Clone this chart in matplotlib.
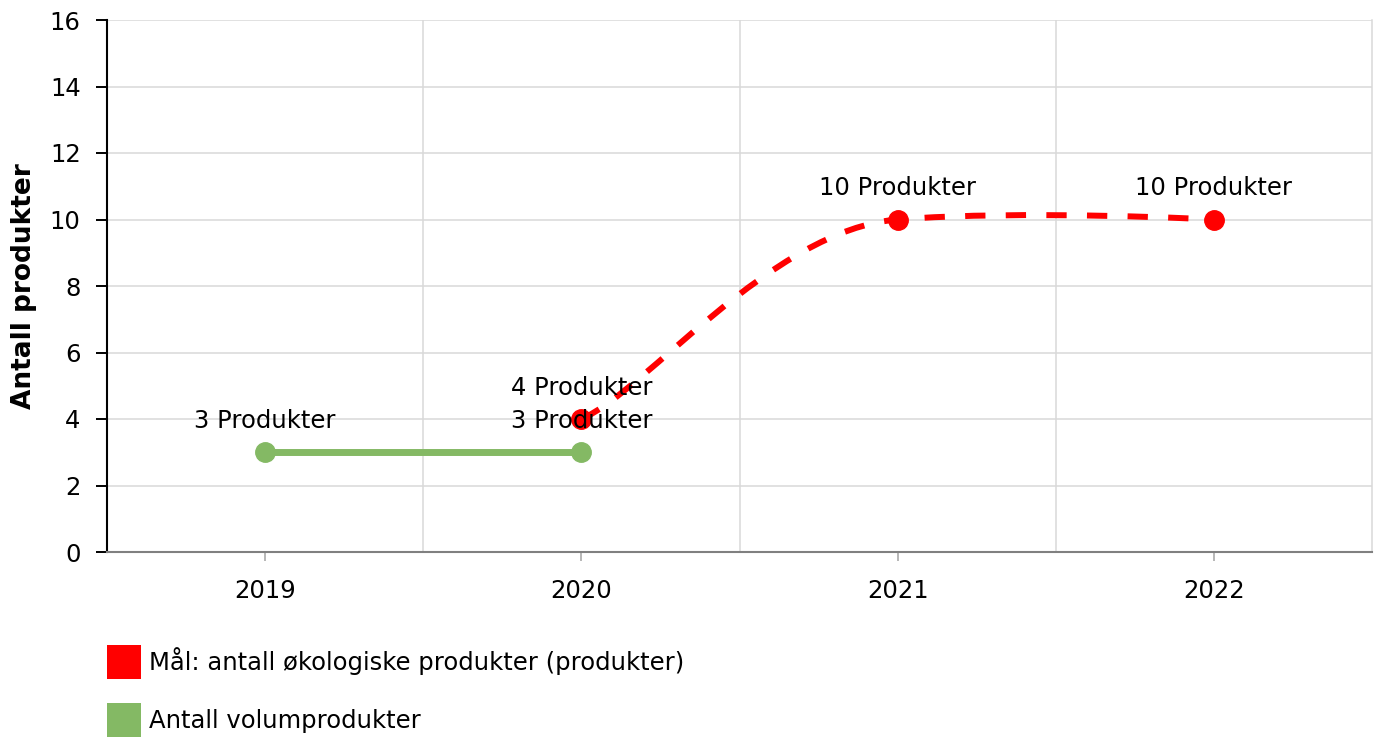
import matplotlib
matplotlib.use("Agg")
import matplotlib.pyplot as plt
from matplotlib.path import Path
from matplotlib.patches import PathPatch, Patch
from matplotlib.ticker import MultipleLocator, FixedLocator

plt.rcParams['font.family'] = ['DejaVu Sans']

# data
years = ["2019", "2020", "2021", "2022"]
maal_idx = [1, 2, 3]            # Mål: antall økologiske produkter
maal_val = [4, 10, 10]
volum_idx = [0, 1]              # Antall volumprodukter
volum_val = [3, 3]
label_maal = "Mål: antall økologiske produkter (produkter)"
label_volum = "Antall volumprodukter"

RED = "#ff0000"
GREEN = "#84b964"
FS = 17.5

fig = plt.figure(figsize=(13.8, 7.4), dpi=100)
ax = fig.add_axes([107/1380, 188/740, 1265/1380, 532/740])


def spline(xs, ys, tension=0.25, arm_mid=0.4, arm_start=0.2):
    # bezier spline: start point slope = 2/3 of the secant, inner points
    # slope = tension * central difference, last point has no arm
    n = len(xs)
    slopes = []
    for i in range(n):
        if i == 0:
            slopes.append((ys[1] - ys[0]) / (xs[1] - xs[0]) * 2 / 3)
        elif i == n - 1:
            slopes.append(0)
        else:
            slopes.append(tension * (ys[i+1] - ys[i-1]) / (xs[i+1] - xs[i-1]))
    verts = [(xs[0], ys[0])]
    codes = [Path.MOVETO]
    for i in range(n - 1):
        dx = xs[i+1] - xs[i]
        a = (arm_start if i == 0 else arm_mid) * dx
        b = 0 if i + 1 == n - 1 else arm_mid * dx
        verts += [(xs[i] + a, ys[i] + a * slopes[i]),
                  (xs[i+1] - b, ys[i+1] - b * slopes[i+1]),
                  (xs[i+1], ys[i+1])]
        codes += [Path.CURVE4] * 3
    return Path(verts, codes)


# green series
ax.plot(volum_idx, volum_val, color=GREEN, lw=5, solid_capstyle='butt',
        marker='o', ms=14, zorder=3)

# red dashed spline
ax.add_patch(PathPatch(spline(maal_idx, maal_val), fill=False, edgecolor=RED,
                       lw=4.3, linestyle=(0, (3.4, 3.4)), capstyle='butt', zorder=4))
ax.plot(maal_idx, maal_val, linestyle='none', marker='o', ms=14, color=RED, zorder=5)

# data labels
for x, y in zip(volum_idx, volum_val):
    ax.annotate(f"{y} Produkter", (x, y), xytext=(0, 22.5), textcoords='offset points',
                ha='center', va='center', fontsize=FS, zorder=6)
for x, y in zip(maal_idx, maal_val):
    ax.annotate(f"{y} Produkter", (x, y), xytext=(0, 22.5), textcoords='offset points',
                ha='center', va='center', fontsize=FS, zorder=6)

ax.set_xlim(-0.5, 3.5)
ax.set_ylim(0, 16)
ax.set_xticks(range(len(years)))
ax.set_xticklabels(years)
ax.xaxis.set_minor_locator(FixedLocator([0.5, 1.5, 2.5]))
ax.yaxis.set_major_locator(MultipleLocator(2))

ax.grid(axis='y', which='major', color='#d9d9d9', lw=1.1, zorder=0)
ax.grid(axis='x', which='minor', color='#d9d9d9', lw=1.1, zorder=0)
ax.set_axisbelow(True)

ax.tick_params(axis='y', length=8, width=1.4, color='black', pad=11, labelsize=FS)
ax.tick_params(axis='x', which='major', length=6.5, width=1.2, color='#aaaaaa',
               pad=13, labelsize=FS)
ax.tick_params(axis='x', which='minor', length=0)

ax.spines['top'].set_visible(False)
ax.spines['right'].set_color('#d9d9d9')
ax.spines['right'].set_linewidth(1.1)
ax.spines['left'].set_color('black')
ax.spines['left'].set_linewidth(1.5)
ax.spines['bottom'].set_color('#808080')
ax.spines['bottom'].set_linewidth(1.5)

ax.set_ylabel("Antall produkter", fontsize=19, fontweight='bold')
ax.yaxis.set_label_coords(-0.055, 0.5)

# legend
handles = [Patch(facecolor=RED, edgecolor='none', label=label_maal),
           Patch(facecolor=GREEN, edgecolor='none', label=label_volum)]
fig.legend(handles=handles, loc='upper left', bbox_to_anchor=(107/1380, 95/740),
           frameon=False, fontsize=FS, handlelength=1.4, handleheight=1.75,
           handletextpad=0.33, labelspacing=1.0, borderpad=0, borderaxespad=0)

fig.savefig("out.png", dpi=100)
